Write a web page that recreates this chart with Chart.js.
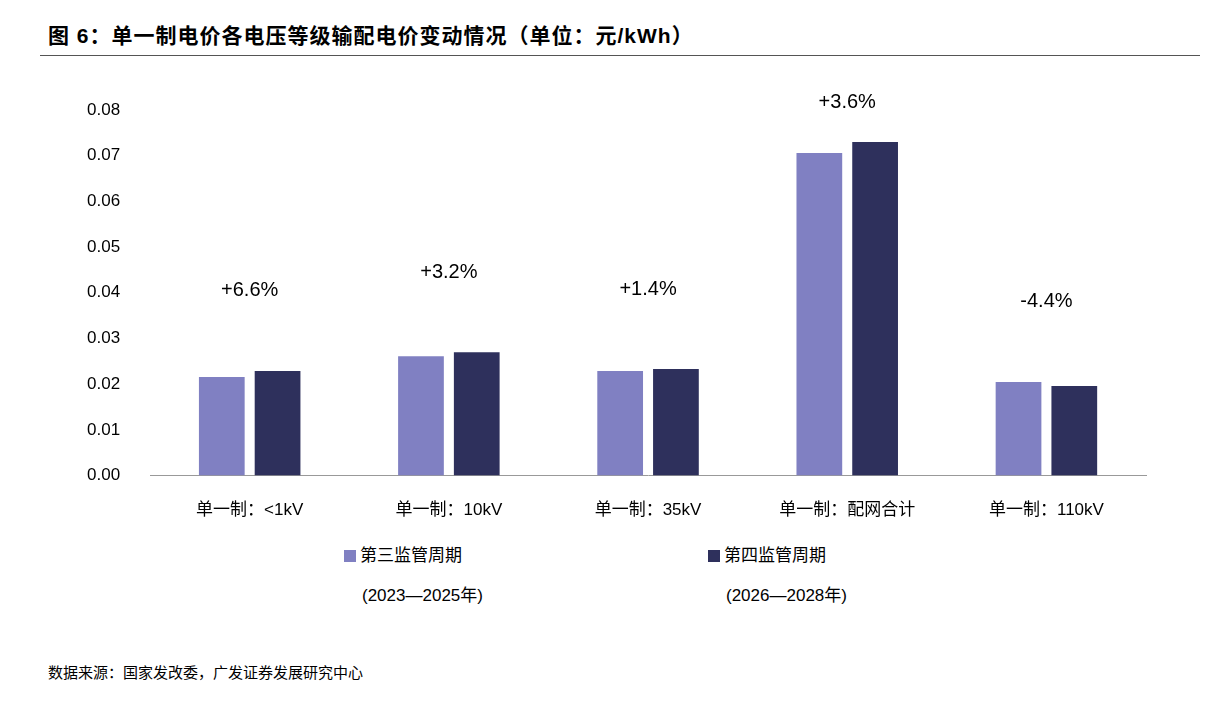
<!DOCTYPE html>
<html><head><meta charset="utf-8">
<script src="https://cdn.jsdelivr.net/npm/chart.js@4/dist/chart.umd.min.js"></script>
<style>
body{margin:0;background:#fff;font-family:"Liberation Sans","Noto Sans CJK SC",sans-serif;}
#wrap{position:relative;width:1216px;height:722px;}
#title{position:absolute;left:48px;top:19px;font-size:21px;font-weight:bold;color:#000;letter-spacing:1px;}
#rule{position:absolute;left:40px;right:16px;top:55px;border-top:1.5px solid #555;}
#box{position:absolute;left:0;top:60px;width:1216px;height:478px;}
.lg{position:absolute;font-size:17px;color:#000;}
.sw{display:inline-block;width:12px;height:12px;margin-right:4px;vertical-align:-1px;}
#src{position:absolute;left:48px;top:661px;font-size:15px;color:#000;}
</style></head><body>
<div id="wrap">
<div id="title">图 6：单一制电价各电压等级输配电价变动情况（单位：元/kWh）</div>
<div id="rule"></div>
<div id="box"><canvas id="c"></canvas></div>
<div class="lg" style="left:344px;top:541px"><span class="sw" style="background:#8080C2"></span>第三监管周期</div>
<div class="lg" style="left:362px;top:581px">(2023—2025年)</div>
<div class="lg" style="left:708px;top:541px"><span class="sw" style="background:#2E305C"></span>第四监管周期</div>
<div class="lg" style="left:726px;top:581px">(2026—2028年)</div>
<div id="src">数据来源：国家发改委，广发证券发展研究中心</div>
</div>
<script>
const categories = ['单一制：<1kV', '单一制：10kV', '单一制：35kV', '单一制：配网合计', '单一制：110kV'];
const period3 = [0.0216, 0.0261, 0.0229, 0.0706, 0.0205];
const period4 = [0.0229, 0.0270, 0.0233, 0.0730, 0.0196];
const changeLabels = ['+6.6%', '+3.2%', '+1.4%', '+3.6%', '-4.4%'];

const changePlugin = {
  id: 'change',
  afterDatasetsDraw(chart) {
    const ctx = chart.ctx;
    const m0 = chart.getDatasetMeta(0), m1 = chart.getDatasetMeta(1);
    ctx.save();
    ctx.font = '20px "Liberation Sans", sans-serif';
    ctx.fillStyle = '#000';
    ctx.textAlign = 'center';
    ctx.textBaseline = 'middle';
    changeLabels.forEach((t, i) => {
      const x = (m0.data[i].x + m1.data[i].x) / 2;
      const y = Math.min(m0.data[i].y, m1.data[i].y) - 80;
      ctx.fillText(t, x, Math.max(y, 42));
    });
    ctx.restore();
  }
};

new Chart(document.getElementById('c'), {
  type: 'bar',
  data: {
    labels: categories,
    datasets: [
      { label: '第三监管周期', data: period3, backgroundColor: '#8080C2' },
      { label: '第四监管周期', data: period4, backgroundColor: '#2E305C' }
    ]
  },
  options: {
    responsive: true,
    maintainAspectRatio: false,
    animation: false,
    layout: { padding: { top: 50, left: 65, right: 70 } },
    datasets: { bar: { categoryPercentage: 0.56, barPercentage: 0.82 } },
    plugins: { legend: { display: false }, tooltip: { enabled: false } },
    scales: {
      x: {
        grid: { display: false },
        border: { color: '#999' },
        ticks: { color: '#000', font: { size: 17, family: '"Liberation Sans","Noto Sans CJK SC"' }, padding: 17, maxRotation: 0 }
      },
      y: {
        min: 0, max: 0.08,
        grid: { display: false },
        border: { display: false },
        ticks: { stepSize: 0.01, color: '#000', padding: 22, font: { size: 17, family: '"Liberation Sans"' },
          callback: v => v.toFixed(2) }
      }
    }
  },
  plugins: [changePlugin]
});
</script>
</body></html>
